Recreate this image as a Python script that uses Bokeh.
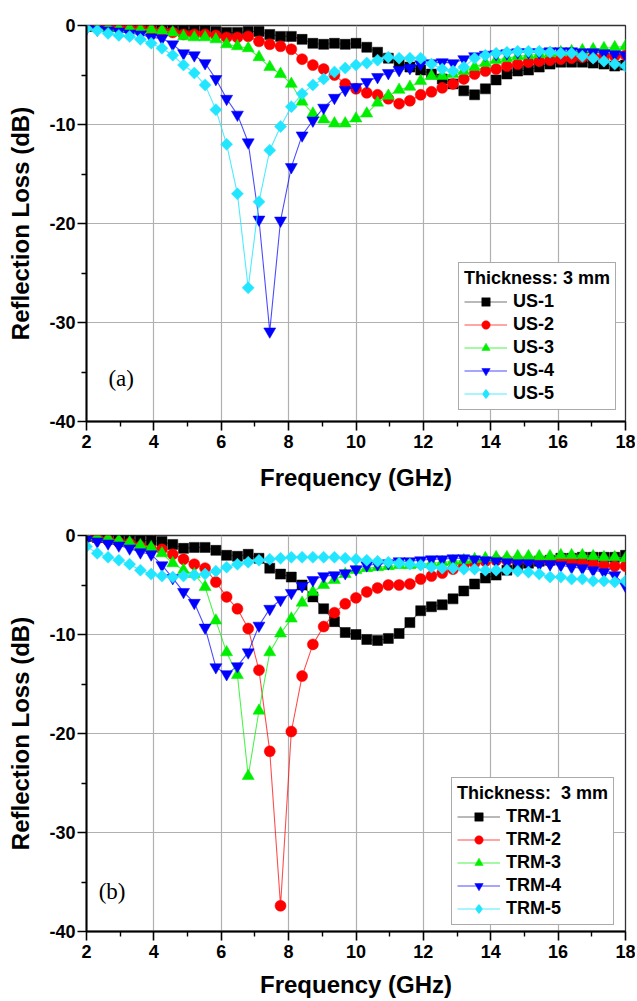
import numpy as np
from bokeh.plotting import figure
from bokeh.layouts import column
from bokeh.models import Range1d, FixedTicker, Legend, LegendItem, Label
from bokeh.embed import file_html
from bokeh.resources import INLINE

# ---------------- data ----------------
freq = np.round(np.linspace(2.0, 18.0, 51), 2)   # GHz sweep (51 points)

us_names = ["US-1", "US-2", "US-3", "US-4", "US-5"]
us1 = [-0.1,-0.1,-0.1,-0.1,-0.2,-0.2,-0.2,-0.3,-0.3,-0.4, -0.4,-0.5,-0.6,-0.7,-0.7,-0.6,-0.6,-0.9,-1.1,-1.1,
       -1.4,-1.8,-1.9,-1.8,-1.9,-1.8,-2.2,-2.7,-3.3,-3.8, -4.2,-4.5,-4.9,-5.4,-5.9,-6.6,-7.0,-6.4,-5.5,-4.9,
       -4.6,-4.5,-4.2,-3.9,-3.7,-3.7,-3.7,-3.8,-3.9,-4.1, -4.0]
us2 = [-0.1,-0.1,-0.2,-0.2,-0.3,-0.4,-0.5,-0.6,-0.7,-0.9, -0.9,-0.9,-1.0,-1.2,-1.2,-1.1,-1.6,-1.9,-2.1,-2.4,
       -3.4,-4.0,-4.4,-5.0,-5.9,-6.4,-6.8,-7.0,-7.4,-7.9, -7.6,-7.0,-6.7,-6.3,-5.9,-5.4,-4.9,-4.6,-4.4,-4.1,
       -3.9,-3.7,-3.6,-3.5,-3.4,-3.3,-3.2,-3.2,-3.1,-3.1, -3.0]
us3 = [-0.1,-0.2,-0.2,-0.3,-0.3,-0.4,-0.4,-0.5,-0.7,-1.1, -1.2,-1.2,-1.4,-1.9,-2.1,-2.3,-3.2,-4.2,-4.9,-5.9,
       -7.7,-8.9,-9.5,-9.9,-9.9,-9.4,-8.9,-7.8,-7.1,-6.5, -6.2,-5.6,-5.1,-5.1,-4.9,-4.6,-4.2,-3.8,-3.5,-3.3,
       -3.1,-3.0,-2.9,-2.8,-2.7,-2.6,-2.5,-2.4,-2.3,-2.2, -2.1]
us4 = [-0.3,-0.4,-0.5,-0.6,-0.8,-0.9,-1.2,-1.3,-1.9,-2.8, -3.0,-3.8,-5.4,-7.4,-9.0,-11.8,-19.6,-30.9,-19.7,-14.3,
       -11.1,-9.6,-8.3,-7.3,-6.5,-6.2,-5.7,-5.2,-4.8,-4.5, -4.3,-3.9,-3.8,-3.7,-3.8,-3.4,-3.1,-2.95,-2.9,-2.8,
       -2.7,-2.7,-2.7,-2.6,-2.6,-2.6,-2.7,-2.7,-2.8,-2.9, -3.0]
us5 = [-0.3,-0.5,-0.8,-1.0,-1.1,-1.4,-1.8,-2.3,-3.0,-4.0, -4.8,-6.0,-8.5,-12.0,-17.0,-26.5,-17.8,-12.6,-10.2,-8.2,
       -6.9,-6.0,-5.4,-4.7,-4.3,-4.0,-3.8,-3.5,-3.2,-3.3, -3.3,-3.3,-3.9,-4.4,-4.6,-4.2,-3.3,-3.0,-2.8,-2.7,
       -2.6,-2.6,-2.6,-2.7,-2.8,-2.8,-3.1,-3.3,-3.6,-3.9, -4.1]

trm_names = ["TRM-1", "TRM-2", "TRM-3", "TRM-4", "TRM-5"]
trm1 = [-0.1,-0.2,-0.2,-0.3,-0.4,-0.5,-0.5,-0.6,-0.9,-1.3, -1.2,-1.2,-1.5,-2.0,-2.1,-1.9,-2.3,-3.3,-3.9,-4.2,
        -5.0,-6.2,-7.4,-8.7,-9.8,-10.0,-10.5,-10.6,-10.4,-9.9, -8.8,-7.6,-7.2,-7.0,-6.4,-5.6,-4.9,-4.3,-4.0,-3.5,
        -3.1,-2.8,-2.6,-2.5,-2.3,-2.3,-2.2,-2.2,-2.2,-2.2, -2.0]
trm2 = [-0.2,-0.3,-0.5,-0.7,-0.8,-1.1,-1.4,-1.4,-1.9,-2.4, -2.9,-3.3,-4.7,-6.2,-7.4,-9.4,-13.6,-21.8,-37.4,-19.8,
        -14.2,-11.0,-9.2,-7.8,-6.9,-6.3,-5.7,-5.3,-5.0,-5.0, -4.9,-4.4,-4.1,-3.8,-3.4,-3.0,-2.8,-2.6,-2.5,-2.5,
        -2.5,-2.5,-2.5,-2.6,-2.6,-2.7,-2.8,-2.9,-3.0,-3.1, -3.1]
trm3 = [-0.1,-0.2,-0.3,-0.5,-0.7,-1.0,-1.2,-1.8,-2.8,-3.5, -3.9,-5.2,-8.6,-11.8,-14.1,-24.3,-17.7,-11.8,-9.9,-8.4,
        -6.8,-5.7,-5.0,-4.5,-3.9,-3.5,-3.3,-3.2,-3.1,-3.0, -3.0,-2.9,-2.8,-2.7,-2.6,-2.5,-2.4,-2.3,-2.2,-2.2,
        -2.1,-2.1,-2.1,-2.1,-2.0,-2.0,-2.0,-2.1,-2.2,-2.2, -2.3]
trm4 = [-0.4,-0.6,-0.8,-1.0,-1.3,-1.7,-1.9,-3.0,-4.3,-5.7, -6.8,-9.3,-13.3,-14.0,-13.2,-11.8,-9.1,-7.4,-6.5,-5.8,
        -5.1,-4.5,-4.1,-4.0,-3.8,-3.4,-3.0,-2.9,-2.8,-2.6, -2.6,-2.5,-2.4,-2.4,-2.3,-2.3,-2.4,-2.5,-2.6,-2.7,
        -2.8,-2.8,-2.9,-2.9,-3.0,-3.2,-3.3,-3.5,-3.7,-4.0, -5.1]
trm5 = [-1.1,-1.8,-2.2,-2.5,-2.9,-3.5,-3.9,-4.1,-4.2,-4.1, -4.0,-3.9,-3.6,-3.2,-2.9,-2.7,-2.5,-2.4,-2.3,-2.2,
        -2.2,-2.2,-2.2,-2.2,-2.3,-2.4,-2.5,-2.6,-2.7,-2.8, -2.9,-3.0,-3.2,-3.3,-3.3,-3.4,-3.4,-3.5,-3.5,-3.5,
        -3.6,-3.7,-3.9,-4.2,-4.2,-4.4,-4.4,-4.6,-4.6,-4.7, -4.6]

x_ticks = [2, 4, 6, 8, 10, 12, 14, 16, 18]
x_minor = [3, 5, 7, 9, 11, 13, 15, 17]
y_ticks = [-40, -30, -20, -10, 0]
y_minor = [-35, -25, -15, -5]

# ---------------- style ----------------
colors = ["#000000", "#FF0000", "#00EE00", "#0000FF", "#22E6FF"]
line_alpha = [0.55, 0.7, 0.7, 0.7, 0.8]
# (data marker, size, angle, legend marker)
markers = [("square", 10, 0.0, "square"), ("circle", 11, 0.0, "circle"),
           ("triangle", 12, 0.0, "triangle"), ("inverted_triangle", 12, 0.0, "inverted_triangle"),
           ("square", 8.5, np.pi / 4, "diamond")]
FONT = "Liberation Sans"


def make_panel(series, names, legend_title, tag, tag_xy, legend_loc, top_b, bottom_b, xlab_standoff):
    p = figure(frame_width=539, frame_height=396, output_backend="svg",
               toolbar_location=None, x_range=Range1d(2, 18), y_range=Range1d(-40, 0),
               min_border_left=86, min_border_right=10, min_border_top=top_b,
               min_border_bottom=bottom_b)
    p.background_fill_color = "white"
    p.border_fill_color = "white"
    p.outline_line_color = "#333333"
    p.outline_line_width = 1.3

    p.xaxis.ticker = FixedTicker(ticks=x_ticks, minor_ticks=x_minor)
    p.yaxis.ticker = FixedTicker(ticks=y_ticks, minor_ticks=y_minor)
    p.yaxis.major_label_overrides = {t: str(t) for t in y_ticks}
    p.xaxis.major_label_overrides = {t: str(t) for t in x_ticks}
    for ax in (p.xaxis, p.yaxis):
        ax.axis_line_width = 2
        ax.axis_line_color = "black"
        ax.major_tick_line_width = 1.6
        ax.minor_tick_line_width = 1.4
        ax.major_tick_in = 0
        ax.major_tick_out = 9
        ax.minor_tick_in = 0
        ax.minor_tick_out = 5
        ax.major_label_text_font = FONT
        ax.major_label_text_font_style = "bold"
        ax.major_label_text_font_size = "18px"
        ax.major_label_text_color = "black"
        ax.axis_label_text_font = FONT
        ax.axis_label_text_font_style = "bold"
        ax.axis_label_text_font_size = "24px"
        ax.axis_label_text_color = "black"
    p.xaxis.major_label_standoff = 4
    p.yaxis.major_label_standoff = 2
    p.xaxis.axis_label = "Frequency (GHz)"
    p.yaxis.axis_label = "Reflection Loss (dB)"
    p.xaxis.axis_label_standoff = xlab_standoff
    p.yaxis.axis_label_standoff = 12

    p.xgrid.ticker = FixedTicker(ticks=x_ticks)
    p.ygrid.ticker = FixedTicker(ticks=y_ticks)
    for g in (p.xgrid, p.ygrid):
        g.grid_line_color = "#b0b0b0"
        g.grid_line_width = 1.2

    items = []
    for ys, name, c, la, (mk, sz, ang, lmk) in zip(series, names, colors, line_alpha, markers):
        lr = p.line(freq, ys, line_color=c, line_width=1.1, line_alpha=la)
        sr = p.scatter(freq, ys, marker=mk, size=sz, angle=ang,
                       fill_color=c, line_color=c, line_width=0.5)
        if lmk != mk:
            # legend-only glyph (hidden) so the key shows a diamond
            kr = p.scatter(freq, ys, marker=lmk, size=sz, fill_color=c, line_color=c,
                           line_width=1.5, visible=False)
            items.append(LegendItem(label=name, renderers=[lr, kr]))
        else:
            items.append(LegendItem(label=name, renderers=[lr, sr]))

    legend = Legend(items=items, location=legend_loc, title=legend_title,
                    title_text_font=FONT, title_text_font_style="bold",
                    title_text_font_size="18px", title_text_color="black",
                    title_standoff=2,
                    label_text_font=FONT, label_text_font_style="bold",
                    label_text_font_size="18px", label_text_color="black",
                    glyph_width=43, glyph_height=21, label_height=21,
                    label_standoff=6, spacing=2, padding=5, margin=0,
                    border_line_color="#555555", border_line_width=1.2,
                    background_fill_color="white", background_fill_alpha=1.0)
    p.add_layout(legend)

    p.add_layout(Label(x=tag_xy[0], y=tag_xy[1], text=tag, text_font="Liberation Serif",
                       text_font_size="23px", text_baseline="middle", text_color="black"))
    return p


pa = make_panel([us1, us2, us3, us4, us5], us_names, "Thickness: 3 mm", "(a)",
                (2.65, -35.7), (372, 11), 25, 76, 13)
pb = make_panel([trm1, trm2, trm3, trm4, trm5], trm_names, "Thickness:  3 mm", "(b)",
                (2.36, -36.0), (365, 6), 38, 60, 10)

layout = column(pa, pb, spacing=0)
open("out.html", "w").write(file_html(layout, INLINE))
